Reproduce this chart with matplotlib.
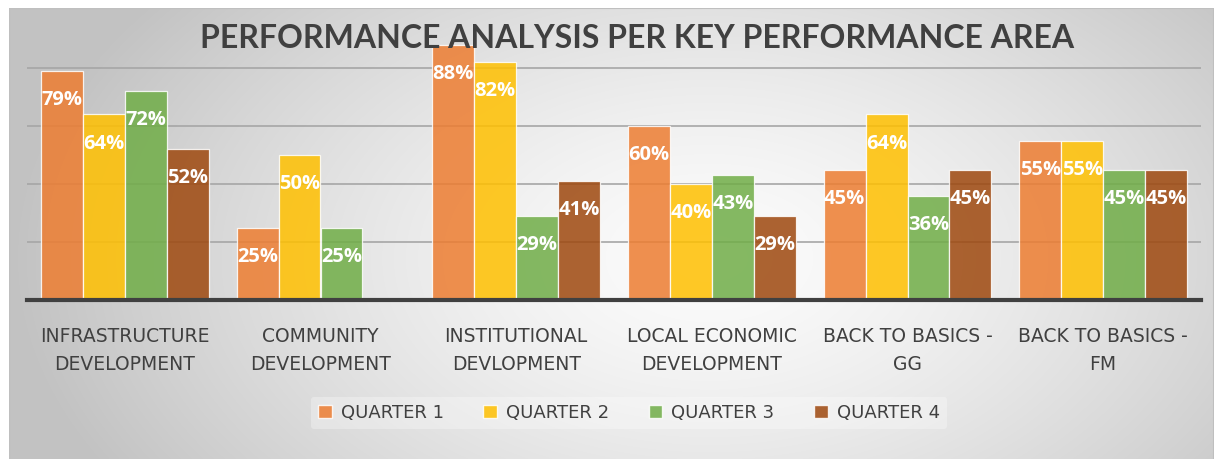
import matplotlib.pyplot as plt
import numpy as np
from matplotlib.patches import Patch

# data
categories = ['INFRASTRUCTURE\nDEVELOPMENT', 'COMMUNITY\nDEVELOPMENT', 'INSTITUTIONAL\nDEVLOPMENT',
              'LOCAL ECONOMIC\nDEVELOPMENT', 'BACK TO BASICS -\nGG', 'BACK TO BASICS -\nFM']
quarter_1 = [79, 25, 88, 60, 45, 55]
quarter_2 = [64, 50, 82, 40, 64, 55]
quarter_3 = [72, 25, 29, 43, 36, 45]
quarter_4 = [52, None, 41, 29, 45, 45]
series_names = ['QUARTER 1', 'QUARTER 2', 'QUARTER 3', 'QUARTER 4']
colors = ['#ED7D31', '#FFC000', '#70AD47', '#9E480E']
title = 'PERFORMANCE ANALYSIS PER KEY PERFORMANCE AREA'

W, H = 1214, 459
fig = plt.figure(figsize=(W / 100, H / 100), dpi=100)
fig.patch.set_facecolor('white')

# radial grey background of the chart area
bg = fig.add_axes([9 / W, 0, 1 - 9 / W, 1 - 8 / H])
bw, bh = W - 9, H - 8
yy, xx = np.mgrid[0:bh, 0:bw]
d = np.sqrt(((xx - 700) / 700.0) ** 2 + ((yy - 250) / 430.0) ** 2)
d = np.clip(d, 0, 1)
shade = (252 - 58 * d ** 1.4) / 255.0
bg.imshow(np.dstack([shade, shade, shade]), aspect='auto', extent=[0, 1, 0, 1])
bg.plot([0, 0, 1, 1], [0, 1, 1, 0], color='#bfbfbf', lw=1.5, transform=bg.transAxes)
bg.set_xlim(0, 1)
bg.set_ylim(0, 1)
bg.axis('off')

ax = fig.add_axes([27 / W, 1 - 300 / H, (1201 - 27) / W, 290 / H])
ax.patch.set_alpha(0)

x = np.arange(len(categories))
width = 0.2146
all_series = [quarter_1, quarter_2, quarter_3, quarter_4]
for i, (vals, name, col) in enumerate(zip(all_series, series_names, colors)):
    pos = x + (i - 1.5) * width
    heights = [np.nan if v is None else v / 100 for v in vals]
    ax.bar(pos, heights, width, color=col, alpha=0.85, edgecolor=(1, 1, 1, 0.55),
           linewidth=0.9, zorder=2)
    for px, v in zip(pos, vals):
        if v is None:
            continue
        ax.annotate(f'{v}%', (px, v / 100), xytext=(0, -21), textcoords='offset points',
                    ha='center', va='center', color='white', fontsize=14.5,
                    fontweight='bold', family='Open Sans', zorder=4)

ax.set_xlim(-0.5, len(categories) - 0.5)
ax.set_ylim(0, 1.0)
ax.set_yticks([0.2, 0.4, 0.6, 0.8])
ax.yaxis.grid(True, color='#a6a6a6', linewidth=1.2, zorder=1)
ax.set_axisbelow(True)
ax.tick_params(axis='y', left=False, labelleft=False)
ax.axhline(0, color='#404040', linewidth=3, zorder=5, clip_on=False)
for s in ax.spines.values():
    s.set_visible(False)

ax.set_xticks(x)
ax.set_xticklabels(categories, fontsize=13.5, color='#404040', linespacing=1.6,
                   family='DejaVu Sans')
ax.tick_params(axis='x', bottom=False, pad=16)

fig.text(637 / W, 1 - 39 / H, title, ha='center', va='center', fontsize=23,
         fontweight='bold', color='#404040', family='Lato', zorder=10)

handles = [Patch(facecolor=c, alpha=0.85, edgecolor=(1, 1, 1, 0.5)) for c in colors]
leg = fig.legend(handles, series_names, loc='center', bbox_to_anchor=(629 / W, 1 - 413 / H),
                 ncol=4, frameon=True, fontsize=13, handlelength=0.75, handleheight=0.75,
                 handletextpad=0.5, columnspacing=2.2, borderpad=0.4)
leg.get_frame().set_facecolor('white')
leg.get_frame().set_alpha(0.3)
leg.get_frame().set_edgecolor('none')
for t in leg.get_texts():
    t.set_color('#404040')

fig.savefig('out.png', dpi=100)
